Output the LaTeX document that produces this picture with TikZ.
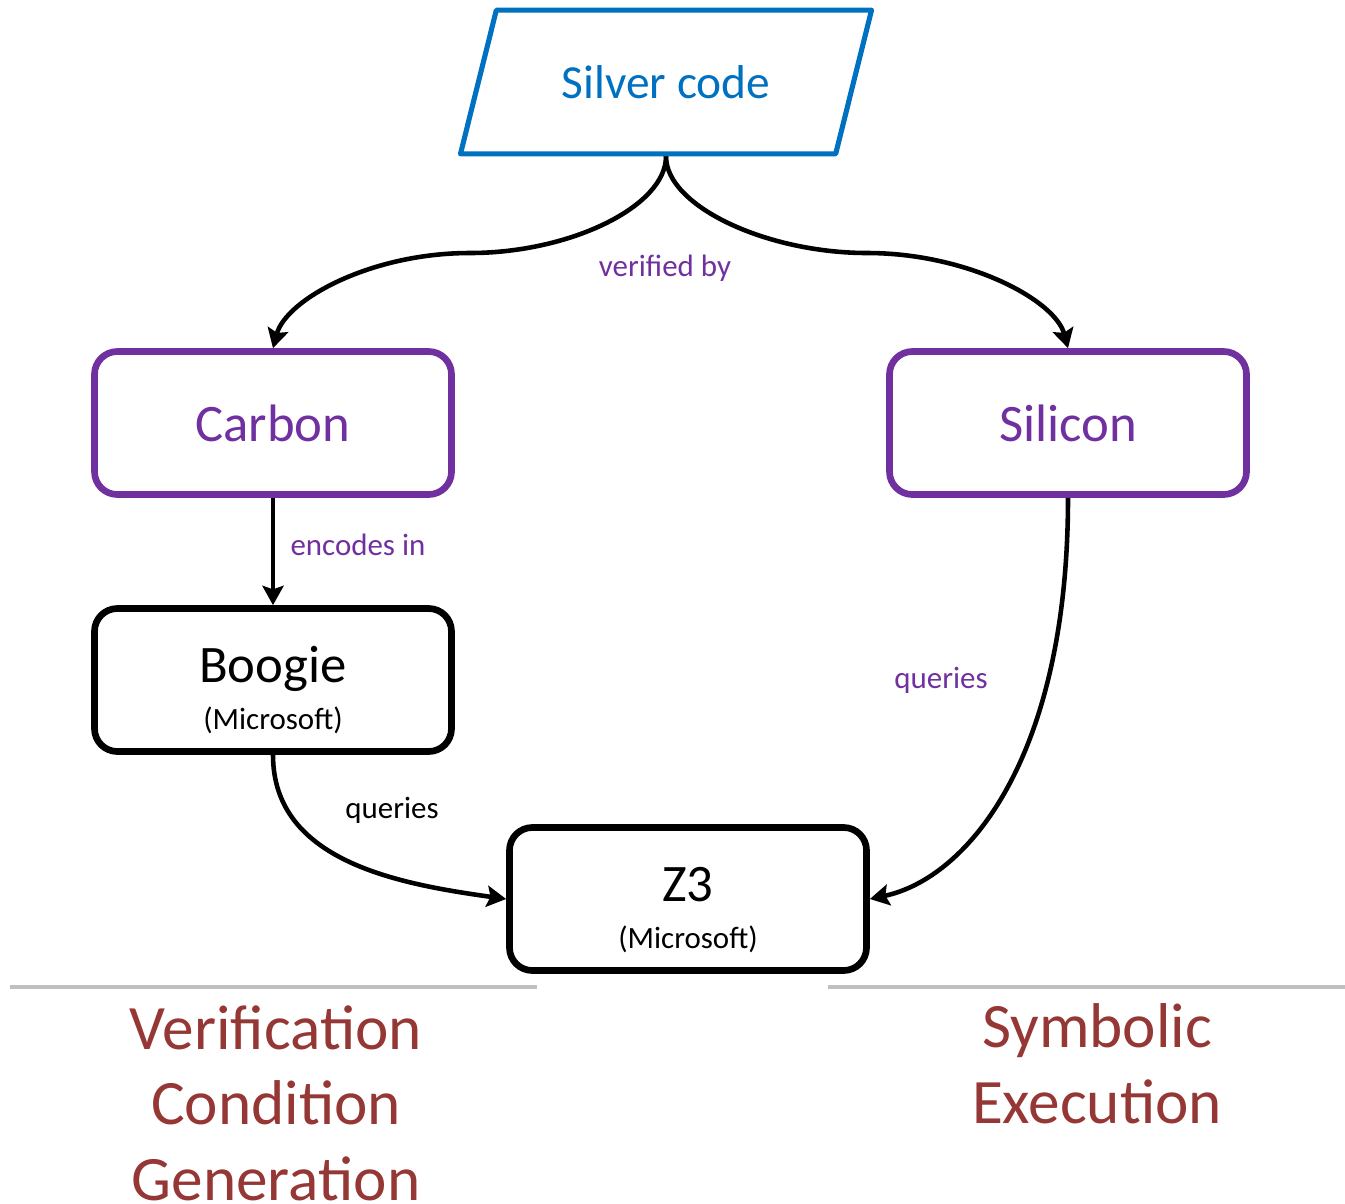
\documentclass[tikz,border=0pt]{standalone}
\usepackage{fontspec}
\setmainfont{Carlito}
\usetikzlibrary{shapes.geometric,arrows.meta}
\definecolor{silverblue}{RGB}{0,112,192}
\definecolor{toolpurple}{RGB}{112,48,160}
\definecolor{sectionred}{RGB}{149,55,53}
\definecolor{rulegray}{RGB}{191,191,191}
\newcommand{\subname}[1]{{\fontsize{8.8}{10}\selectfont #1}}
\begin{document}
\begin{tikzpicture}
    \useasboundingbox (0,0) rectangle (13.45,-12.03);
    \node[trapezium,trapezium left angle=76,trapezium right angle=104,
          inner xsep=18.6pt,inner ysep=15.7pt,draw=silverblue,text=silverblue,
          line width=1.45pt,line join=round,font=\fontsize{13.5}{16}\selectfont] (silver) at (6.66,-0.82) {Silver code};
    \begin{scope}[every node/.style={draw,rounded corners=6.5pt,line width=1.9pt,minimum width=3.57cm,minimum height=1.43cm,align=center,font=\fontsize{15}{12}\selectfont}]
      \node[draw=toolpurple,text=toolpurple] (carbon) at (2.73,-4.23) {Carbon};
      \node[draw=toolpurple,text=toolpurple] (silicon) at (10.68,-4.23) {Silicon};
      \node (boogie) at (2.73,-6.80) {\rule{0pt}{16pt}Boogie\\[1.5pt]\subname{(Microsoft)}};
      \node (z3) at (6.88,-8.99) {\rule{0pt}{16pt}Z3\\[1.5pt]\subname{(Microsoft)}};
    \end{scope}
    \coordinate (vmidl) at (4.70,-2.53);
    \coordinate (vmidr) at (8.67,-2.53);
    \begin{scope}[every edge/.style={draw=black,line width=1.3pt,-{Stealth[length=5.5pt,width=6pt,inset=1pt]}},
                  arr/.style={draw=black,line width=1.3pt,-{Stealth[length=5.5pt,width=6pt,inset=1pt]}}]
      \draw[arr] (silver.center |- silver.south) to[out=-90,in=0,out distance=0.5cm,in distance=1cm] (vmidl)
        to[out=180,in=75,out distance=1cm,in distance=0.5cm] (carbon.north);
      \draw[arr] (silver.center |- silver.south) to[out=-90,in=180,out distance=0.5cm,in distance=1cm] (vmidr)
        to[out=0,in=105,out distance=1cm,in distance=0.5cm] (silicon.north);
      \path (carbon) edge (boogie);
      \path (boogie.south) edge[out=-90,in=172] (z3.west);
      \path (silicon.south) edge[out=-90,in=12,out distance=2.6cm,in distance=1.0cm] (z3.east);
    \end{scope}
    \begin{scope}[every node/.style={font=\fontsize{8.8}{10}\selectfont}]
      \node[text=toolpurple] (verified) at (6.65,-2.68) {verified by};
      \node[text=toolpurple] (encodes) at (3.58,-5.45) {encodes in};
      \node (queriesl) at (3.92,-8.10) {queries};
      \node[text=toolpurple] (queriesr) at (9.41,-6.80) {queries};
    \end{scope}
    \draw[rulegray,line width=1.1pt] (0.10,-9.87) -- (5.37,-9.87);
    \draw[rulegray,line width=1.1pt] (8.28,-9.87) -- (13.45,-9.87);
    \begin{scope}[every node/.style={text=sectionred,align=center,font=\fontsize{18}{21.5}\selectfont}]
      \node (vcg) at (2.76,-11.03) {Verification\\Condition\\Generation};
      \node (symex) at (10.97,-10.64) {Symbolic\\Execution};
    \end{scope}
\end{tikzpicture}
\end{document}
